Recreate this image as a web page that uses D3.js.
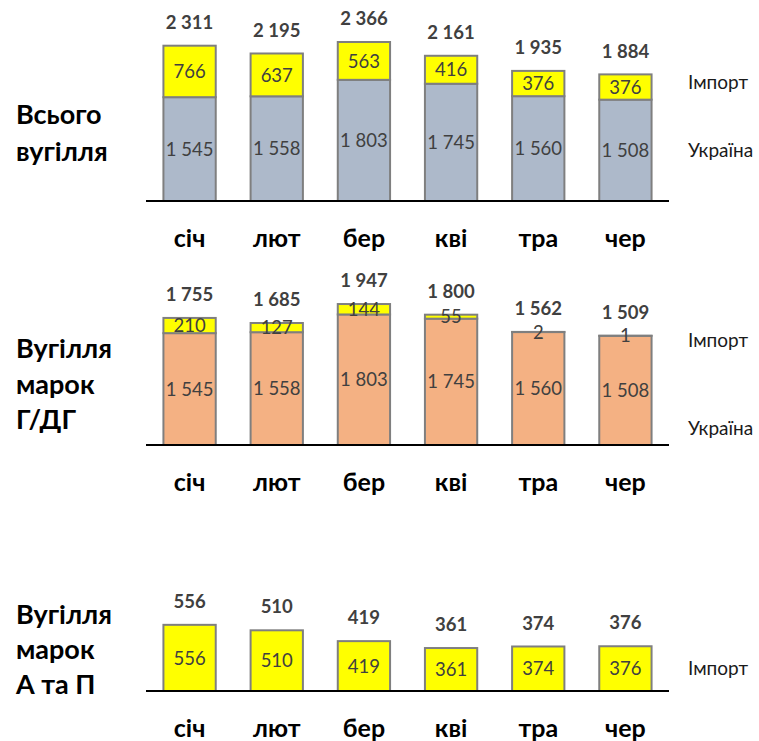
<!DOCTYPE html>
<html>
<head>
<meta charset="utf-8">
<script src="https://cdn.jsdelivr.net/npm/d3@7"></script>
<style>
  html, body { margin: 0; padding: 0; background: #fff; }
  svg { display: block; font-family: Lato, "Open Sans", sans-serif; }
</style>
</head>
<body>
<svg id="chart" width="759" height="741"></svg>
<script>
// ---- data ----
const months = ["січ", "лют", "бер", "кві", "тра", "чер"];

const allUkraine = [1545, 1558, 1803, 1745, 1560, 1508];
const allImport  = [766, 637, 563, 416, 376, 376];
const allTotal   = [2311, 2195, 2366, 2161, 1935, 1884];

const gUkraine = [1545, 1558, 1803, 1745, 1560, 1508];
const gImport  = [210, 127, 144, 55, 2, 1];
const gTotal   = [1755, 1685, 1947, 1800, 1562, 1509];

const apImport = [556, 510, 419, 361, 374, 376];
const apTotal  = [556, 510, 419, 361, 374, 376];

const seriesUkraine = "Україна";
const seriesImport = "Імпорт";

// ---- layout / style ----
const W = 759, H = 741;
const svg = d3.select("#chart");
const fmt = d3.formatLocale({decimal: ",", thousands: " ", grouping: [3], currency: ["", ""]}).format(",d");

const colUkraine1 = "#ADB9CA";
const colUkraine2 = "#F4B183";
const colImport = "#FFFF00";
const stroke = "#7F7F7F";
const labelCol = "#404040";

const x = d3.scaleBand().domain(months).range([146, 669]).paddingInner(0.4).paddingOuter(0.2);

const panels = [
  {
    title: ["Всього", "вугілля"], titleY: [124, 161],
    base: 201, dmax: 2400, top: 201 - 2400 * 0.0672,
    series: [
      {name: seriesUkraine, values: allUkraine, color: colUkraine1, labelY: 157},
      {name: seriesImport, values: allImport, color: colImport, labelY: 89}
    ],
    totals: allTotal
  },
  {
    title: ["Вугілля", "марок", "Г/ДГ"], titleY: [358, 394, 429],
    base: 445, dmax: 2000, top: 445 - 2000 * 0.0724,
    series: [
      {name: seriesUkraine, values: gUkraine, color: colUkraine2, labelY: 435},
      {name: seriesImport, values: gImport, color: colImport, labelY: 347}
    ],
    totals: gTotal
  },
  {
    title: ["Вугілля", "марок", "А та П"], titleY: [624, 659, 694],
    base: 691, dmax: 600, top: 691 - 600 * 0.119,
    series: [
      {name: seriesImport, values: apImport, color: colImport, labelY: 675}
    ],
    totals: apTotal
  }
];

panels.forEach(p => {
  const g = svg.append("g");
  const y = d3.scaleLinear().domain([0, p.dmax]).range([p.base, p.top]);

  // stack
  const rows = months.map((m, i) => {
    const o = {month: m};
    p.series.forEach(s => o[s.name] = s.values[i]);
    return o;
  });
  const stack = d3.stack().keys(p.series.map(s => s.name));
  const layers = stack(rows);

  layers.forEach((layer, li) => {
    const s = p.series[li];
    const lg = g.append("g");
    lg.selectAll("rect").data(layer).join("rect")
      .attr("x", d => x(d.data.month))
      .attr("width", x.bandwidth())
      .attr("y", d => y(d[1]))
      .attr("height", d => y(d[0]) - y(d[1]))
      .attr("fill", s.color)
      .attr("stroke", stroke)
      .attr("stroke-width", 2);
  });

  // inner labels
  layers.forEach((layer, li) => {
    g.append("g").selectAll("text").data(layer).join("text")
      .attr("x", d => x(d.data.month) + x.bandwidth() / 2)
      .attr("y", d => (y(d[0]) + y(d[1])) / 2)
      .attr("dy", "0.36em")
      .attr("text-anchor", "middle")
      .attr("font-size", 18.5)
      .attr("fill", labelCol)
      .text(d => fmt(d[1] - d[0]));
  });

  // totals
  const topVals = layers[layers.length - 1];
  g.append("g").selectAll("text").data(topVals).join("text")
    .attr("x", d => x(d.data.month) + x.bandwidth() / 2)
    .attr("y", d => y(d[1]) - 23.5)
    .attr("dy", "0.36em")
    .attr("text-anchor", "middle")
    .attr("font-size", 18.5)
    .attr("font-weight", "bold")
    .attr("fill", labelCol)
    .text((d, i) => fmt(p.totals[i]));

  // axis
  const axis = d3.axisBottom(x).tickSize(0).tickPadding(0);
  const ag = g.append("g").attr("transform", `translate(0,${p.base})`).call(axis);
  ag.select(".domain").attr("stroke", "#000").attr("stroke-width", 2).attr("d", `M146,0H669`);
  ag.selectAll(".tick text")
    .attr("y", 45.7).attr("dy", 0)
    .attr("font-family", "Lato, sans-serif")
    .attr("font-size", 25)
    .attr("font-weight", "bold")
    .attr("fill", "#000");

  // series names
  p.series.forEach(s => {
    g.append("text").attr("x", 688).attr("y", s.labelY)
      .attr("font-size", 19).attr("fill", "#1a1a1a").text(s.name);
  });

  // title
  const t = g.append("text").attr("font-size", 27).attr("font-weight", "bold").attr("fill", "#000");
  p.title.forEach((line, i) => {
    t.append("tspan").attr("x", 16).attr("y", p.titleY[i]).text(line);
  });
});
</script>
</body>
</html>
